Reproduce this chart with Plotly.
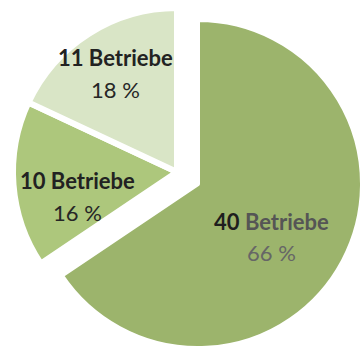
import math
import plotly.graph_objects as go

# Farm counts per group (big group first, then the two smaller ones, clockwise from 12 o'clock)
counts = [40, 10, 11]
unit = "Betriebe"
slice_colors = ["#9cb46c", "#adc77c", "#d9e5c6"]

W, H = 362, 359
BG = "white"
CLEAR = "rgba(0,0,0,0)"

# Pie geometry in pixels: the main slice and the pulled-out pair of small slices
R = 164
MAIN_C = (198, 184)
PAIR_C = (177, 172)

# Label placement (fraction of radius, angular nudge in degrees)
label_radius = [0.553, 0.625, 0.707]
label_turn = [7.4, -9.3, 0.7]
name_color = ["#555555", "#222222", "#222222"]
pct_color = ["#666666", "#262626", "#262626"]
FONT = "Lato"


def domain(c, r):
    cx, cy = c
    return dict(x=[(cx - r) / W, (cx + r) / W],
                y=[1 - (cy + r) / H, 1 - (cy - r) / H])


total = sum(counts)
shares = [round(100 * v / total) for v in counts]

fig = go.Figure()

# Main slice drawn alone, the others kept invisible
fig.add_trace(go.Pie(
    values=counts, sort=False, direction="clockwise", rotation=0,
    domain=domain(MAIN_C, R),
    marker=dict(colors=[slice_colors[0], CLEAR, CLEAR],
                line=dict(color=[BG, CLEAR, CLEAR], width=[4, 0, 0])),
    textinfo="none", hoverinfo="skip", showlegend=False,
))

# The two smaller slices, offset together away from the main one
fig.add_trace(go.Pie(
    values=counts, sort=False, direction="clockwise", rotation=0,
    domain=domain(PAIR_C, R),
    marker=dict(colors=[CLEAR, slice_colors[1], slice_colors[2]],
                line=dict(color=[CLEAR, BG, BG], width=[0, 6, 6])),
    textinfo="none", hoverinfo="skip", showlegend=False,
))

# Labels placed at the mid-angle of each slice
start = 0.0
for i, v in enumerate(counts):
    sweep = 360.0 * v / total
    mid = math.radians(start + sweep / 2 + label_turn[i])
    start += sweep
    cx, cy = MAIN_C if i == 0 else PAIR_C
    px = cx + label_radius[i] * R * math.sin(mid)
    py = cy - label_radius[i] * R * math.cos(mid)
    if i == 0:
        name = f"<span style='color:#1e1e1e'>{v}</span> {unit}"
    else:
        name = f"{v} {unit}"
    fig.add_annotation(
        x=px / W, y=1 - (py - 15.5) / H, xref="paper", yref="paper",
        text=f"<b>{name}</b>", showarrow=False,
        xanchor="center", yanchor="middle",
        font=dict(family=FONT, size=22, color=name_color[i]),
    )
    fig.add_annotation(
        x=px / W, y=1 - (py + 16) / H, xref="paper", yref="paper",
        text=f"{shares[i]} %", showarrow=False,
        xanchor="center", yanchor="middle",
        font=dict(family=FONT, size=22, color=pct_color[i]),
    )

fig.update_layout(
    width=W, height=H,
    margin=dict(l=0, r=0, t=0, b=0),
    paper_bgcolor=BG, plot_bgcolor=BG,
)

fig.write_html("out.html")
